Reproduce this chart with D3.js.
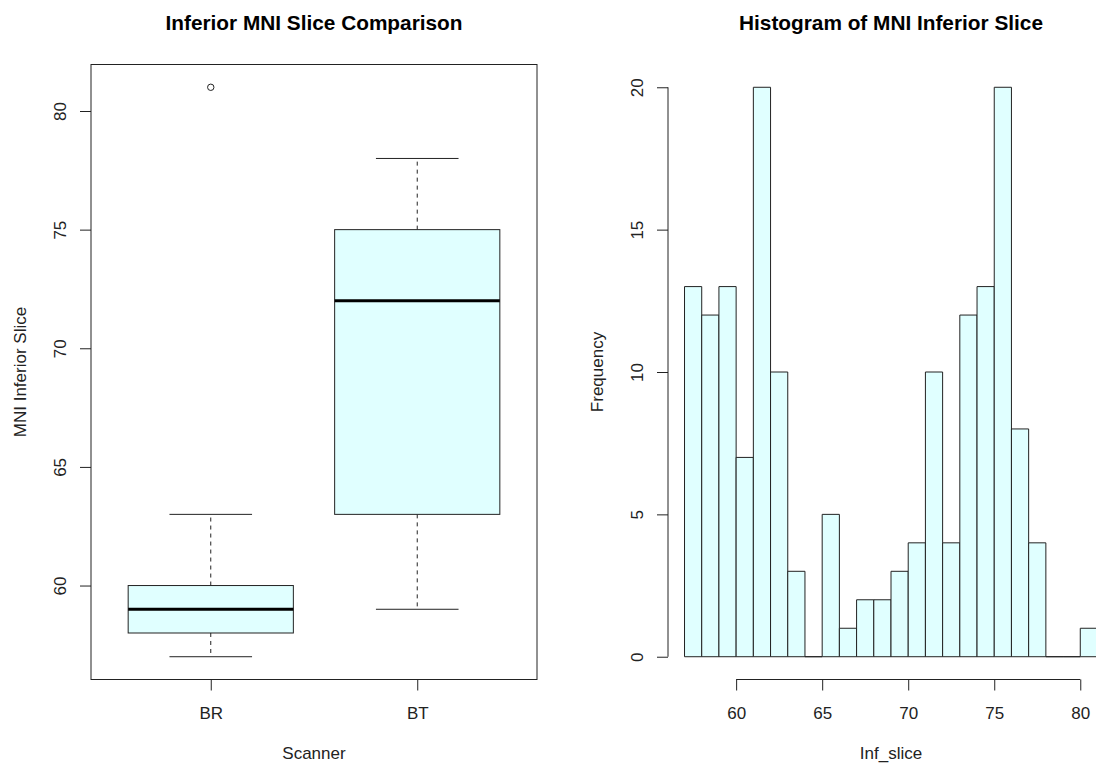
<!DOCTYPE html>
<html>
<head>
<meta charset="utf-8">
<script src="https://cdn.jsdelivr.net/npm/d3@7"></script>
<style>
  body { margin: 0; background: #fff; }
  svg { display: block; font-family: "Liberation Sans", Arial, sans-serif; }
</style>
</head>
<body>
<svg id="chart"></svg>
<script>
// boxplot data (per scanner)
const scanners = ["BR", "BT"];
const whiskerLow = [57, 59];
const quart1 = [58, 63];
const medians = [59, 72];
const quart3 = [60, 75];
const whiskerHigh = [63, 78];
const outliers = [[81], []];
const boxYTicks = [60, 65, 70, 75, 80];

// histogram of Inf_slice
const binStarts = [57, 58, 59, 60, 61, 62, 63, 64, 65, 66, 67, 68, 69, 70, 71, 72, 73, 74, 75, 76, 77, 78, 79, 80];
const binEnds   = [58, 59, 60, 61, 62, 63, 64, 65, 66, 67, 68, 69, 70, 71, 72, 73, 74, 75, 76, 77, 78, 79, 80, 81];
const counts    = [13, 12, 13, 7, 20, 10, 3, 0, 5, 1, 2, 2, 3, 4, 10, 4, 12, 13, 20, 8, 4, 0, 0, 1];
const histXTicks = [60, 65, 70, 75, 80];
const histYTicks = [0, 5, 10, 15, 20];

const W = 1096, H = 765;
const fill = "#E0FFFF";
const ink = "#222";
const fontSize = 17;

const svg = d3.select("#chart").attr("width", W).attr("height", H);

// R style range extension (4%)
function extend(lo, hi) {
  const d = (hi - lo) * 0.04;
  return [lo - d, hi + d];
}

const plotTop = 64.5, plotBottom = 679.5;

// rotate y tick labels like R (parallel to axis)
function styleYAxis(g) {
  g.select(".domain").remove();
  g.selectAll(".tick line").attr("stroke", ink);
  g.selectAll(".tick text")
    .attr("transform", "rotate(-90)")
    .attr("x", 0)
    .attr("y", -25)
    .attr("dy", 0)
    .attr("text-anchor", "middle")
    .attr("fill", ink)
    .style("font-size", fontSize + "px");
}

function styleXAxis(g) {
  g.select(".domain").remove();
  g.selectAll(".tick line").attr("stroke", ink);
  g.selectAll(".tick text")
    .attr("y", 39)
    .attr("dy", 0)
    .attr("fill", ink)
    .style("font-size", fontSize + "px");
}

// ---------- left: boxplot ----------
const bl = 91, br = 537;
const allVals = whiskerLow.concat(whiskerHigh, outliers.flat());
const yBox = d3.scaleLinear()
  .domain(extend(d3.min(allVals), d3.max(allVals)))
  .range([plotBottom, plotTop]);
const xBox = d3.scalePoint()
  .domain(scanners)
  .range([bl, br])
  .padding(0.58);
const boxW = xBox.step() * 0.8;

const left = svg.append("g");

scanners.forEach((s, i) => {
  const cx = xBox(s);
  // whiskers (dashed)
  left.append("line")
    .attr("x1", cx).attr("x2", cx)
    .attr("y1", yBox(quart3[i])).attr("y2", yBox(whiskerHigh[i]))
    .attr("stroke", ink).attr("stroke-dasharray", "4,4");
  left.append("line")
    .attr("x1", cx).attr("x2", cx)
    .attr("y1", yBox(quart1[i])).attr("y2", yBox(whiskerLow[i]))
    .attr("stroke", ink).attr("stroke-dasharray", "4,4");
  // caps
  [whiskerLow[i], whiskerHigh[i]].forEach(v => {
    left.append("line")
      .attr("x1", cx - boxW / 4).attr("x2", cx + boxW / 4)
      .attr("y1", yBox(v)).attr("y2", yBox(v))
      .attr("stroke", ink);
  });
  // box
  left.append("rect")
    .attr("x", cx - boxW / 2)
    .attr("y", yBox(quart3[i]))
    .attr("width", boxW)
    .attr("height", yBox(quart1[i]) - yBox(quart3[i]))
    .attr("fill", fill)
    .attr("stroke", ink);
  // median
  left.append("line")
    .attr("x1", cx - boxW / 2).attr("x2", cx + boxW / 2)
    .attr("y1", yBox(medians[i])).attr("y2", yBox(medians[i]))
    .attr("stroke", "#000").attr("stroke-width", 3);
  // outliers
  outliers[i].forEach(v => {
    left.append("circle")
      .attr("cx", cx).attr("cy", yBox(v)).attr("r", 3.2)
      .attr("fill", "none").attr("stroke", ink);
  });
});

left.append("rect")
  .attr("x", bl).attr("y", plotTop)
  .attr("width", br - bl).attr("height", plotBottom - plotTop)
  .attr("fill", "none").attr("stroke", ink);

left.append("g")
  .attr("transform", `translate(${bl},0)`)
  .call(d3.axisLeft(yBox).tickValues(boxYTicks).tickSize(11))
  .call(styleYAxis);

left.append("g")
  .attr("transform", `translate(0,${plotBottom})`)
  .call(d3.axisBottom(xBox).tickSize(11))
  .call(styleXAxis);

left.append("text")
  .attr("x", (bl + br) / 2).attr("y", 30)
  .attr("text-anchor", "middle")
  .style("font-size", "20.8px").style("font-weight", "bold")
  .text("Inferior MNI Slice Comparison");

left.append("text")
  .attr("x", (bl + br) / 2).attr("y", 759)
  .attr("text-anchor", "middle")
  .attr("fill", ink).style("font-size", fontSize + "px")
  .text("Scanner");

left.append("text")
  .attr("transform", `translate(26,${(plotTop + plotBottom) / 2}) rotate(-90)`)
  .attr("text-anchor", "middle")
  .attr("fill", ink).style("font-size", fontSize + "px")
  .text("MNI Inferior Slice");

// ---------- right: histogram ----------
const hl = 668, hr = 1114;
const xHist = d3.scaleLinear()
  .domain(extend(d3.min(binStarts), d3.max(binEnds)))
  .range([hl, hr]);
const yHist = d3.scaleLinear()
  .domain(extend(0, d3.max(counts)))
  .range([plotBottom, plotTop]);

const right = svg.append("g");

// bars as closed paths so empty bins still leave a line on the baseline
right.selectAll("path.bar")
  .data(counts)
  .join("path")
  .attr("class", "bar")
  .attr("d", (d, i) => {
    const x0 = xHist(binStarts[i]), x1 = xHist(binEnds[i]);
    const y0 = yHist(0), y1 = yHist(d);
    return `M${x0},${y0}V${y1}H${x1}V${y0}Z`;
  })
  .attr("fill", fill)
  .attr("stroke", ink);

right.append("g")
  .attr("transform", `translate(${hl},0)`)
  .call(d3.axisLeft(yHist).tickValues(histYTicks).tickSize(11))
  .call(styleYAxis);
right.append("line")
  .attr("x1", hl).attr("x2", hl)
  .attr("y1", yHist(d3.min(histYTicks))).attr("y2", yHist(d3.max(histYTicks)))
  .attr("stroke", ink);

right.append("g")
  .attr("transform", `translate(0,${plotBottom})`)
  .call(d3.axisBottom(xHist).tickValues(histXTicks).tickSize(11))
  .call(styleXAxis);
right.append("line")
  .attr("x1", xHist(d3.min(histXTicks))).attr("x2", xHist(d3.max(histXTicks)))
  .attr("y1", plotBottom).attr("y2", plotBottom)
  .attr("stroke", ink);

right.append("text")
  .attr("x", (hl + hr) / 2).attr("y", 30)
  .attr("text-anchor", "middle")
  .style("font-size", "20.8px").style("font-weight", "bold")
  .text("Histogram of MNI Inferior Slice");

right.append("text")
  .attr("x", (hl + hr) / 2).attr("y", 759)
  .attr("text-anchor", "middle")
  .attr("fill", ink).style("font-size", fontSize + "px")
  .text("Inf_slice");

right.append("text")
  .attr("transform", `translate(${hl - 65},${(plotTop + plotBottom) / 2}) rotate(-90)`)
  .attr("text-anchor", "middle")
  .attr("fill", ink).style("font-size", fontSize + "px")
  .text("Frequency");
</script>
</body>
</html>
